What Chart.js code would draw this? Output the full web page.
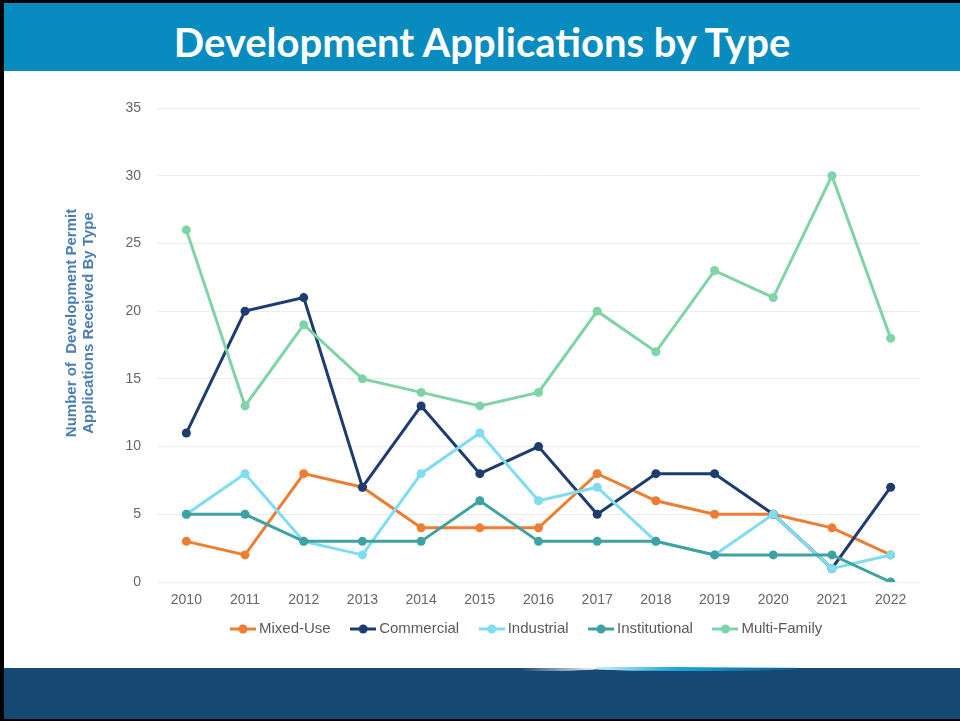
<!DOCTYPE html>
<html>
<head>
<meta charset="utf-8">
<script src="https://cdn.jsdelivr.net/npm/chart.js@4/dist/chart.umd.min.js"></script>
<style>
  html, body { margin: 0; padding: 0; background: #000; }
  #page { position: relative; width: 960px; height: 721px; background: #000; overflow: hidden; }
  #titlebar { position: absolute; left: 4px; top: 3px; width: 956px; height: 68px; background: #088bbe; }
  #titlebar h1 { position: relative; top: 5px; margin: 0; font-family: Lato, "Open Sans", sans-serif; font-weight: 700; font-size: 40px; color: #fff; text-align: center; line-height: 68px; }
  #content { position: absolute; left: 4px; top: 71px; width: 956px; height: 597px; background: #fff; }
  #footer { position: absolute; left: 4px; top: 668px; width: 956px; height: 51px; background: #164874; }
  #swoosh1 { position: absolute; left: 520px; top: 666px; width: 80px; height: 5px; background: linear-gradient(to right, rgba(255,255,255,0), #fff); border-radius: 0 0 60% 0; }
  #swoosh2 { position: absolute; left: 596px; top: 667px; width: 200px; height: 4px; background: linear-gradient(to right, #c9eefb, #1aa8dc 40%, rgba(22,160,215,0.2)); border-radius: 0 0 50% 50%; }
  #chartbox { position: absolute; left: 4px; top: 75px; width: 956px; height: 590px; }
</style>
</head>
<body>
<div id="page">
  <div id="titlebar"><h1>Development Applications by Type</h1></div>
  <div id="content"></div>
  <div id="footer"></div>
  <div id="swoosh1"></div>
  <div id="swoosh2"></div>
  <div id="chartbox"><canvas id="c" width="956" height="590"></canvas></div>
</div>
<script>
const years = ['2010','2011','2012','2013','2014','2015','2016','2017','2018','2019','2020','2021','2022'];
const mixedUse      = [3, 2, 8, 7, 4, 4, 4, 8, 6, 5, 5, 4, 2];
const commercial    = [11, 20, 21, 7, 13, 8, 10, 5, 8, 8, 5, 1, 7];
const industrial    = [5, 8, 3, 2, 8, 11, 6, 7, 3, 2, 5, 1, 2];
const institutional = [5, 5, 3, 3, 3, 6, 3, 3, 3, 2, 2, 2, 0];
const multiFamily   = [26, 13, 19, 15, 14, 13, 14, 20, 17, 23, 21, 30, 18];
const seriesNames   = ['Mixed-Use', 'Commercial', 'Industrial', 'Institutional', 'Multi-Family'];
const yAxisTitle    = ['Number of  Development Permit', 'Applications Received By Type'];
const yMax = 35;
const yStep = 5;

const colors = ['#ed7d31', '#1d3c70', '#7fdcf2', '#3fa2a2', '#7fd4a6'];
const seriesData = [mixedUse, commercial, industrial, institutional, multiFamily];
const FONT = '"Liberation Sans", Arial, sans-serif';

function legendIcon(color) {
  const cv = document.createElement('canvas');
  cv.width = 26; cv.height = 12;
  const g = cv.getContext('2d');
  g.strokeStyle = color; g.lineWidth = 3;
  g.beginPath(); g.moveTo(0, 6); g.lineTo(26, 6); g.stroke();
  g.fillStyle = color;
  g.beginPath(); g.arc(13, 6, 4.5, 0, Math.PI * 2); g.fill();
  return cv;
}
const icons = colors.map(legendIcon);

const datasets = seriesNames.map((name, i) => ({
  label: name,
  data: seriesData[i],
  borderColor: colors[i],
  backgroundColor: colors[i],
  borderWidth: 3,
  pointRadius: 4.5,
  pointHoverRadius: 4.5,
  pointBorderWidth: 0,
  tension: 0,
  order: seriesNames.length - i
}));

const yTitlePlugin = {
  id: 'yTitle',
  afterDraw(chart) {
    const ctx = chart.ctx;
    ctx.save();
    ctx.font = 'bold 15px ' + FONT;
    ctx.fillStyle = '#4a7db3';
    ctx.textAlign = 'center';
    ctx.textBaseline = 'middle';
    const cy = 248;
    const xs = [68, 85];
    yAxisTitle.forEach((t, i) => {
      ctx.save();
      ctx.translate(xs[i], cy);
      ctx.rotate(-Math.PI / 2);
      ctx.fillText(t, 0, 0);
      ctx.restore();
    });
    ctx.restore();
  }
};

const legendPlace = {
  id: 'legendPlace',
  beforeDraw(chart) {
    if (chart.legend) {
      chart.legend.left = 206.5;
      chart.legend.top = 522.5;
    }
  }
};

new Chart(document.getElementById('c'), {
  type: 'line',
  data: { labels: years, datasets },
  options: {
    responsive: false,
    animation: false,
    layout: { padding: { left: 0, right: 40, top: 33, bottom: 7 } },
    plugins: {
      tooltip: { enabled: false },
      legend: {
        position: 'bottom',
        align: 'start',
        labels: {
          usePointStyle: true,
          pointStyleWidth: 17,
          padding: 24,
          color: '#595959',
          font: { family: FONT, size: 15 },
          generateLabels(chart) {
            return chart.data.datasets.map((ds, i) => ({
              text: ds.label,
              fillStyle: ds.borderColor,
              strokeStyle: ds.borderColor,
              fontColor: '#595959',
              lineWidth: 0,
              pointStyle: icons[i],
              hidden: false,
              datasetIndex: i
            }));
          }
        }
      }
    },
    scales: {
      x: {
        offset: true,
        grid: { display: false, drawTicks: false },
        border: { display: false },
        ticks: { color: '#666', padding: 10, font: { family: FONT, size: 14 } },
        afterFit(scale) { scale.height = 27; }
      },
      y: {
        min: 0, max: yMax,
        ticks: { stepSize: yStep, color: '#666', padding: 16, font: { family: FONT, size: 14 } },
        grid: { color: '#ececec', lineWidth: 1, drawTicks: false },
        border: { display: false },
        afterFit(scale) { scale.width = 153; }
      }
    }
  },
  plugins: [yTitlePlugin, legendPlace]
});
</script>
</body>
</html>
